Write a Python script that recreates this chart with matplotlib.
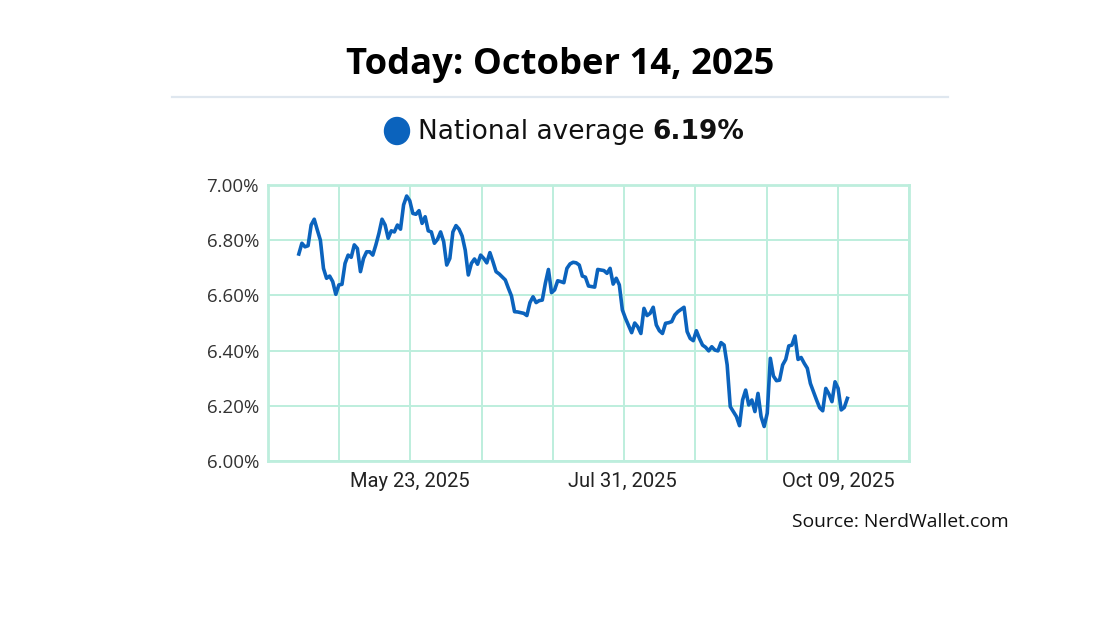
import numpy as np
import pandas as pd
import matplotlib
matplotlib.use("Agg")
import matplotlib.pyplot as plt
import matplotlib.dates as mdates
from matplotlib.ticker import FixedLocator, FuncFormatter

# data: day offsets from the first point, rate in %
start = "2025-04-17"
day = [0, 1, 2, 3, 4, 5, 6, 7, 8, 9, 10, 11, 12, 13, 14, 15, 16, 17, 18, 19,
       20, 21, 22, 23, 24, 25, 26, 27, 28, 29, 30, 31, 32, 33, 34, 35, 36, 37, 38, 39,
       40, 41, 42, 43, 44, 45, 46, 47, 48, 49, 50, 51, 52, 53, 54, 55, 56, 57, 58, 59,
       60, 61, 62, 63, 64, 65, 67, 68, 69, 70, 71, 73, 74, 75, 76, 77, 78, 79, 80, 81,
       82, 83, 84, 85, 86, 87, 88, 89, 90, 91, 92, 93, 94, 96, 97, 98, 99, 100, 101, 102,
       103, 104, 105, 106, 108, 109, 110, 111, 112, 113, 114, 115, 116, 117, 118, 119, 120, 121, 122, 123,
       125, 126, 127, 128, 129, 130, 131, 132, 133, 134, 135, 136, 137, 138, 139, 140, 141, 142, 143, 144,
       145, 146, 147, 148, 149, 150, 151, 152, 153, 154, 155, 156, 157, 158, 159, 160, 161, 162, 163, 164,
       165, 166, 167, 168, 169, 170, 171, 172, 173, 174, 175, 176, 177, 178]
rate = [6.75, 6.789, 6.776, 6.78, 6.855, 6.876, 6.837, 6.80, 6.698, 6.662, 6.67, 6.65, 6.604, 6.638, 6.64, 6.716, 6.746, 6.738, 6.783, 6.77,
        6.686, 6.734, 6.758, 6.758, 6.746, 6.783, 6.825, 6.876, 6.855, 6.807, 6.834, 6.83, 6.855, 6.84, 6.928, 6.96, 6.943, 6.897, 6.894, 6.907,
        6.861, 6.885, 6.834, 6.83, 6.789, 6.803, 6.83, 6.795, 6.71, 6.734, 6.83, 6.853, 6.84, 6.815, 6.764, 6.674, 6.716, 6.732, 6.713, 6.746,
        6.734, 6.718, 6.755, 6.722, 6.686, 6.678, 6.656, 6.626, 6.598, 6.541, 6.54, 6.535, 6.527, 6.574, 6.595, 6.574, 6.581, 6.583, 6.644, 6.694,
        6.61, 6.62, 6.653, 6.65, 6.646, 6.698, 6.714, 6.72, 6.718, 6.71, 6.67, 6.666, 6.634, 6.63, 6.694, 6.692, 6.69, 6.68, 6.698, 6.641,
        6.662, 6.638, 6.547, 6.517, 6.465, 6.50, 6.486, 6.462, 6.553, 6.527, 6.535, 6.557, 6.493, 6.472, 6.462, 6.499, 6.501, 6.505, 6.529, 6.541,
        6.557, 6.469, 6.444, 6.436, 6.472, 6.444, 6.42, 6.412, 6.399, 6.414, 6.402, 6.399, 6.429, 6.42, 6.348, 6.197, 6.179, 6.161, 6.128, 6.221,
        6.257, 6.203, 6.221, 6.179, 6.245, 6.161, 6.125, 6.173, 6.372, 6.308, 6.291, 6.293, 6.348, 6.368, 6.417, 6.42, 6.453, 6.368, 6.375, 6.354,
        6.336, 6.281, 6.251, 6.221, 6.193, 6.182, 6.263, 6.243, 6.215, 6.287, 6.263, 6.185, 6.194, 6.227]

tick_dates = ["2025-05-23", "2025-07-31", "2025-10-09"]
tick_labels = ["May 23, 2025", "Jul 31, 2025", "Oct 09, 2025"]
y_ticks = [6.0, 6.2, 6.4, 6.6, 6.8, 7.0]
title = "Today: October 14, 2025"
today_rate = "6.19%"

dates = pd.Timestamp(start) + pd.to_timedelta(day, unit="D")

grid_col = "#bdeedd"
line_col = "#0b63bd"

fig = plt.figure(figsize=(11.2, 6.3), dpi=100)
ax = fig.add_axes([268 / 1120, 1 - 461 / 630, (909 - 268) / 1120, (461 - 185) / 630])

ax.plot(dates, rate, color=line_col, linewidth=2.6, solid_joinstyle="round")

x0 = mdates.date2num(pd.Timestamp("2025-04-07"))
x1 = mdates.date2num(pd.Timestamp("2025-11-01"))
ax.set_xlim(x0, x1)
ax.set_ylim(6.0, 7.0)

ax.xaxis.set_major_locator(FixedLocator(mdates.date2num(pd.to_datetime(tick_dates))))
ax.xaxis.set_major_formatter(FuncFormatter(lambda v, p: tick_labels[p] if p is not None and p < len(tick_labels) else ""))
ax.xaxis.set_minor_locator(FixedLocator(np.linspace(x0, x1, 10)))
ax.set_yticks(y_ticks)
ax.yaxis.set_major_formatter(FuncFormatter(lambda v, p: f"{v:.2f}%"))

ax.grid(True, which="minor", axis="x", color=grid_col, linewidth=1.4)
ax.grid(True, which="major", axis="y", color=grid_col, linewidth=1.4)
ax.tick_params(which="both", length=0)
ax.tick_params(axis="x", pad=8, labelsize=14.5, labelcolor="#222222")
ax.tick_params(axis="y", pad=6.5, labelsize=13.5, labelcolor="#333333")
for lab in ax.get_xticklabels():
    lab.set_family("Roboto")
for lab in ax.get_yticklabels():
    lab.set_family("Open Sans")
for s in ax.spines.values():
    s.set_color(grid_col)
    s.set_linewidth(2)
ax.set_axisbelow(True)

fig.text(0.5, 1 - 65 / 630, title, ha="center", va="center", fontsize=26.2,
         fontweight="bold", family="Open Sans", color="black")
fig.add_artist(plt.Line2D([172 / 1120, 948 / 1120], [1 - 97 / 630] * 2,
                          color="#dfe7ef", linewidth=1.6))

# legend line
fig.patches.append(matplotlib.patches.Ellipse((397 / 1120, 1 - 131 / 630), 25 / 1120, 27 / 630,
                                              transform=fig.transFigure, color=line_col))
t1 = fig.text(418 / 1120, 1 - 132 / 630, "National average ", ha="left", va="center",
              fontsize=19, family="DejaVu Sans", color="#111111")
fig.canvas.draw()
bb = t1.get_window_extent()
fig.text(bb.x1 / 1120, 1 - 132 / 630, today_rate, ha="left", va="center",
         fontsize=19, family="DejaVu Sans", fontweight="bold", color="#111111")

fig.text(1009 / 1120, 1 - 522 / 630, "Source: NerdWallet.com", ha="right", va="center",
         fontsize=13.9, family="Open Sans", color="#111111")

fig.savefig("out.png", dpi=100, facecolor="white")
